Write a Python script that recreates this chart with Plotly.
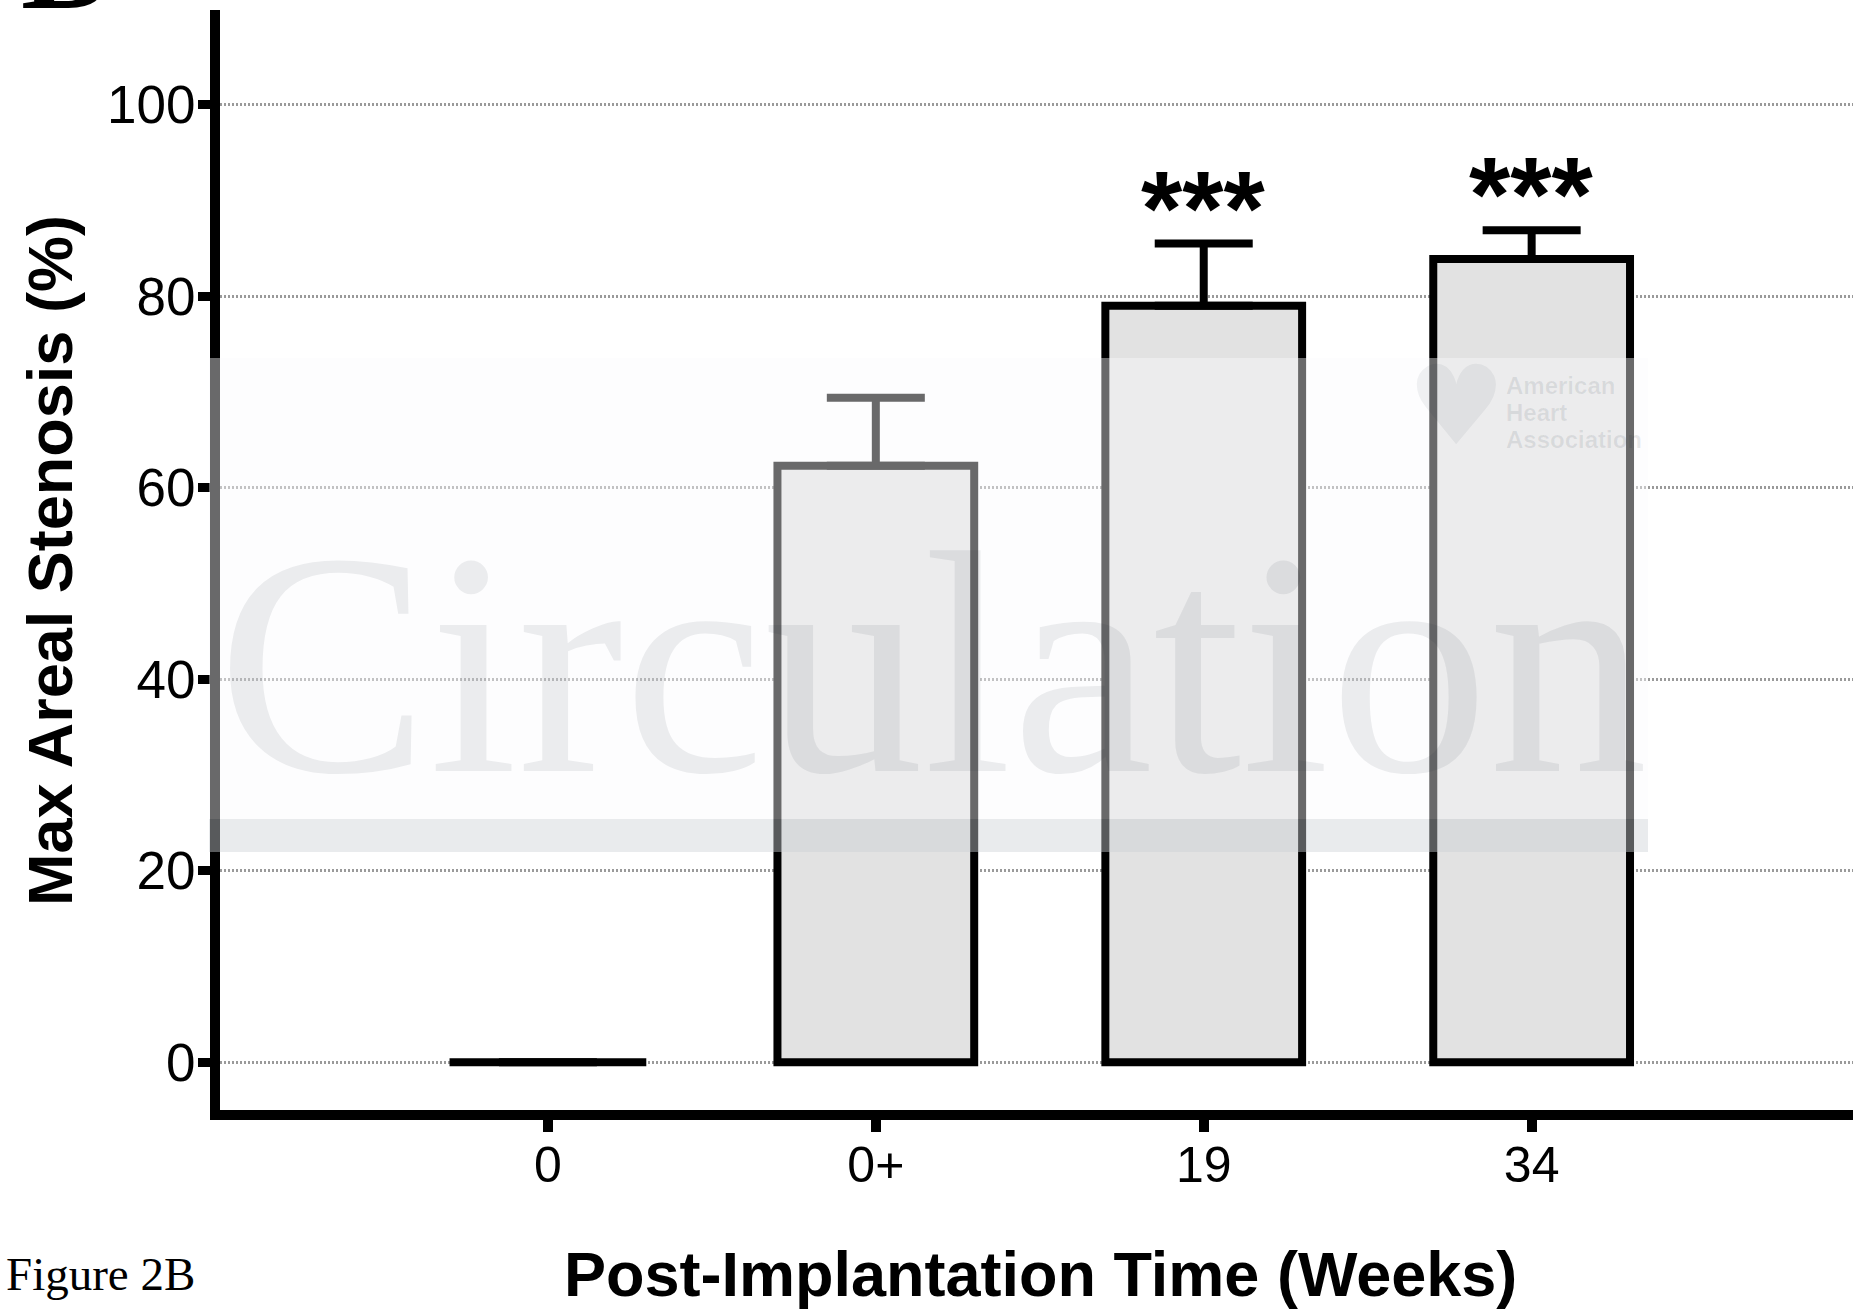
import plotly.graph_objects as go

# ---- data ----
categories = ["0", "0+", "19", "34"]
stenosis = [0, 62.3, 79.0, 83.9]
sem = [0, 7.1, 6.5, 3.0]
significance = ["", "", "***", "***"]
y_ticks = [0, 20, 40, 60, 80, 100]

W, H = 1853, 1310
L, R, T, B = 220, 0, 10, 200
PW, PH = W - L - R, H - T - B


def px_x(px):
    return (px - L) / PW


def px_y(py):
    return (H - B - py) / PH


SANS = "Liberation Sans, Arial, Helvetica, sans-serif"
SERIF = "Liberation Serif, Times New Roman, serif"

fig = go.Figure()
fig.add_trace(go.Bar(
    x=categories,
    y=stenosis,
    marker=dict(color="#e2e2e2", line=dict(color="black", width=8)),
    error_y=dict(type="data", array=sem, arrayminus=[0] * len(sem), symmetric=False,
                 color="black", thickness=8, width=49),
    width=0.6,
    showlegend=False,
    hoverinfo="skip",
))

annotations = []
# significance stars (x given as category index)
for i, (v, e, s) in enumerate(zip(stenosis, sem, significance)):
    if s:
        annotations.append(dict(x=i, y=v + e, xref="x", yref="y", text="<b>" + s + "</b>",
                                showarrow=False, xanchor="center", yanchor="bottom", yshift=-25,
                                font=dict(family=SANS, size=106, color="black")))

# axis titles
annotations.append(dict(x=px_x(50), y=px_y(561), xref="paper", yref="paper",
                        text="<b>Max Areal Stenosis (%)</b>", textangle=-90, showarrow=False,
                        xanchor="center", yanchor="middle",
                        font=dict(family=SANS, size=63, color="black")))
annotations.append(dict(x=px_x(1040), y=px_y(1274), xref="paper", yref="paper",
                        text="<b>Post-Implantation Time (Weeks)</b>", showarrow=False,
                        xanchor="center", yanchor="middle",
                        font=dict(family=SANS, size=63, color="black")))
# figure label
annotations.append(dict(x=px_x(4), y=px_y(1274), xref="paper", yref="paper",
                        text="Figure 2B", showarrow=False, xanchor="left", yanchor="middle",
                        font=dict(family=SERIF, size=47, color="black")))
# clipped panel letter at top-left
annotations.append(dict(x=px_x(19), y=px_y(38), xref="paper", yref="paper",
                        text="<b>B</b>", showarrow=False, xanchor="left", yanchor="bottom",
                        font=dict(family=SERIF, size=130, color="black")))
# watermark text
annotations.append(dict(x=px_x(932), y=px_y(664), xref="paper", yref="paper",
                        text="Circulation", showarrow=False, xanchor="center", yanchor="middle",
                        font=dict(family=SERIF, size=318, color="rgba(20,35,50,0.08)")))
for txt, yy in [("American", 385), ("Heart", 412), ("Association", 439)]:
    annotations.append(dict(x=px_x(1504), y=px_y(yy), xref="paper", yref="paper",
                            text="<b>" + txt + "</b>", showarrow=False,
                            xanchor="left", yanchor="middle",
                            font=dict(family=SANS, size=24, color="rgba(20,35,50,0.09)")))
annotations.append(dict(x=px_x(1456), y=px_y(406), xref="paper", yref="paper",
                        text="\u2665", showarrow=False, xanchor="center", yanchor="middle",
                        font=dict(family="DejaVu Sans", size=110, color="rgba(20,35,50,0.06)")))

shapes = [
    dict(type="rect", xref="paper", yref="paper", x0=px_x(209), x1=px_x(1648),
         y0=px_y(819), y1=px_y(358), fillcolor="rgba(250,251,253,0.42)",
         line=dict(width=0), layer="above"),
    dict(type="rect", xref="paper", yref="paper", x0=px_x(209), x1=px_x(1648),
         y0=px_y(852), y1=px_y(819), fillcolor="rgba(205,209,214,0.43)",
         line=dict(width=0), layer="above"),
]

fig.update_layout(
    width=W, height=H,
    margin=dict(l=L, r=R, t=T, b=B, pad=0),
    paper_bgcolor="white", plot_bgcolor="white",
    bargap=0.4,
    annotations=annotations,
    shapes=shapes,
    font=dict(family=SANS, color="black"),
    xaxis=dict(
        type="category", range=[-1, 3.98],
        showline=True, linecolor="black", linewidth=10,
        ticks="outside", ticklen=12, tickwidth=10, tickcolor="black",
        tickfont=dict(family=SANS, size=50, color="black"),
        ticklabelstandoff=-10,
        showgrid=False, zeroline=False, fixedrange=True,
    ),
    yaxis=dict(
        range=[-5.0, 109.9], tickvals=y_ticks, ticktext=[str(v) for v in y_ticks],
        showline=True, linecolor="black", linewidth=10,
        ticks="outside", ticklen=12, tickwidth=9, tickcolor="black",
        tickfont=dict(family=SANS, size=53, color="black"),
        ticklabelstandoff=-8,
        showgrid=True, gridcolor="#9a9a9a", gridwidth=3, griddash="2px,2px",
        zeroline=False, fixedrange=True,
    ),
)

fig.write_html("out.html", config={"displayModeBar": False},
               post_script="document.body.style.margin='0';")
